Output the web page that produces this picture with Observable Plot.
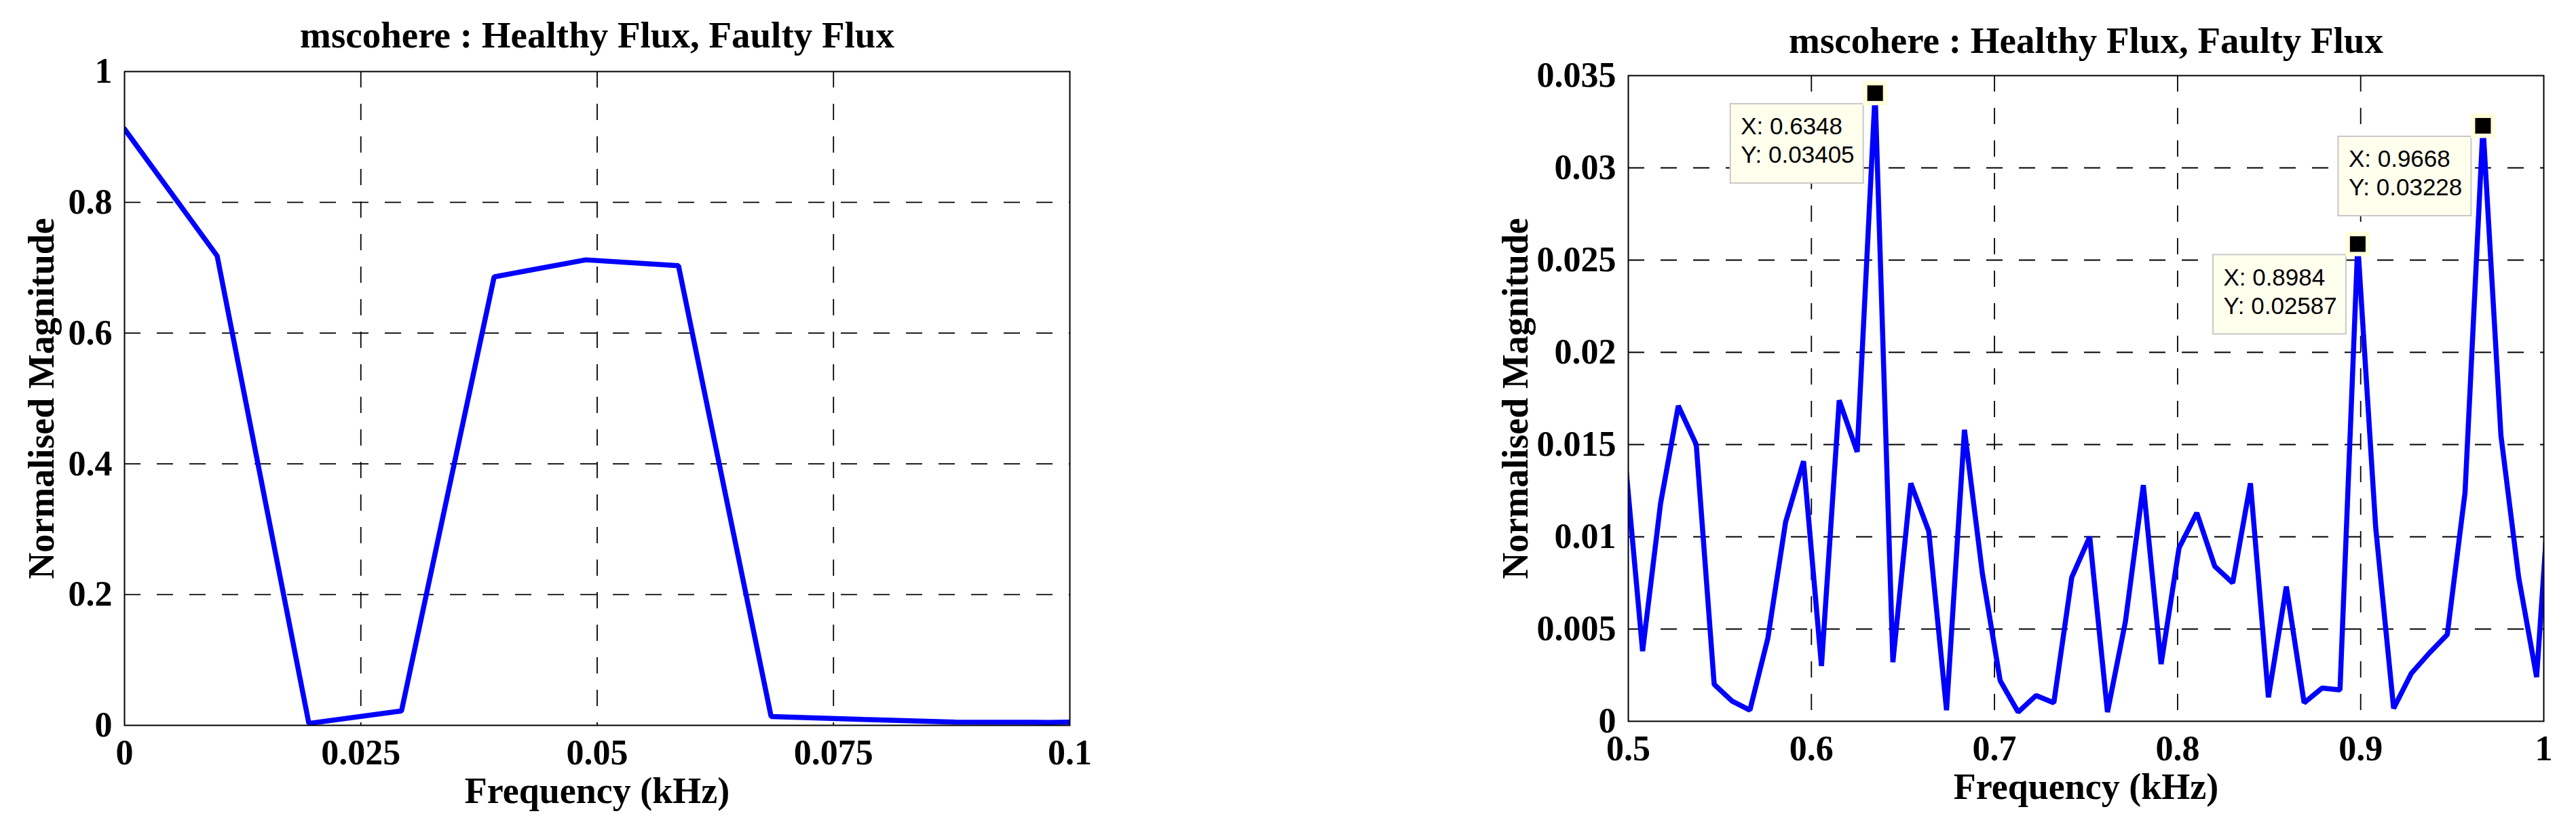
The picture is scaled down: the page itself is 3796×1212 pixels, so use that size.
<!DOCTYPE html>
<html><head><meta charset="utf-8">
<script src="https://cdn.jsdelivr.net/npm/d3@7"></script>
<script src="https://cdn.jsdelivr.net/npm/@observablehq/plot@0.6"></script>
<style>
html,body{margin:0;padding:0;background:#fff;}
#wrap{display:flex;width:3796px;height:1212px;overflow:hidden;background:#fff;}
#wrap svg{display:block;max-width:none;flex:none;}
</style></head><body><div id="wrap"></div>
<script>
const titleText = "mscohere : Healthy Flux, Faulty Flux";
const xLabelText = "Frequency (kHz)";
const yLabelText = "Normalised Magnitude";

// Left panel: 0 – 0.1 kHz
const lowFreq = [0, 0.0098, 0.0195, 0.0293, 0.0391, 0.0488, 0.0586, 0.0684, 0.0781, 0.0879, 0.0977, 0.1074];
const lowMag  = [0.912, 0.718, 0.003, 0.022, 0.686, 0.712, 0.703, 0.0136, 0.009, 0.005, 0.0045, 0.0065];
const lowXTicks = [0, 0.025, 0.05, 0.075, 0.1];
const lowXTickLabels = ["0", "0.025", "0.05", "0.075", "0.1"];
const lowYTicks = [0, 0.2, 0.4, 0.6, 0.8, 1];
const lowYTickLabels = ["0", "0.2", "0.4", "0.6", "0.8", "1"];

// Right panel: 0.5 – 1 kHz
const highFreq = [0.4980, 0.5078, 0.5176, 0.5273, 0.5371, 0.5469, 0.5566, 0.5664, 0.5762, 0.5859,
  0.5957, 0.6055, 0.6152, 0.6250, 0.6348, 0.6445, 0.6543, 0.6641, 0.6738, 0.6836,
  0.6934, 0.7031, 0.7129, 0.7227, 0.7324, 0.7422, 0.7520, 0.7617, 0.7715, 0.7813,
  0.7910, 0.8008, 0.8105, 0.8203, 0.8301, 0.8398, 0.8496, 0.8594, 0.8691, 0.8789,
  0.8887, 0.8984, 0.9082, 0.9180, 0.9277, 0.9375, 0.9473, 0.9570, 0.9668, 0.9766,
  0.9863, 0.9961, 1.0059];
const highMag = [0.0145, 0.0038, 0.0118, 0.0171, 0.0150, 0.0020, 0.0011, 0.0006, 0.0045, 0.0108,
  0.0141, 0.0030, 0.0174, 0.0146, 0.03405, 0.0032, 0.0129, 0.0103, 0.0006, 0.0158,
  0.0080, 0.0022, 0.0005, 0.0014, 0.0010, 0.0078, 0.0100, 0.0005, 0.0054, 0.0128,
  0.0031, 0.0094, 0.0113, 0.0084, 0.0075, 0.0129, 0.0013, 0.0073, 0.0010, 0.0018,
  0.0017, 0.02587, 0.0105, 0.0007, 0.0026, 0.0037, 0.0047, 0.0124, 0.03228, 0.0155,
  0.0078, 0.0024, 0.0167];
const highXTicks = [0.5, 0.6, 0.7, 0.8, 0.9, 1];
const highXTickLabels = ["0.5", "0.6", "0.7", "0.8", "0.9", "1"];
const highYTicks = [0, 0.005, 0.01, 0.015, 0.02, 0.025, 0.03, 0.035];
const highYTickLabels = ["0", "0.005", "0.01", "0.015", "0.02", "0.025", "0.03", "0.035"];

// Data tips
const tipFreq = [0.6348, 0.8984, 0.9668];
const tipMag  = [0.03405, 0.02587, 0.03228];

const SERIF = "'Liberation Serif', 'Times New Roman', Times, serif";
const SANS = "'Liberation Sans', Arial, Helvetica, sans-serif";

function panel({width, marginLeft, marginRight, marginTop, marginBottom, freq, mag,
                xDomain, xTicks, xLabels, yDomain, yTicks, yLabels, titleDy, yLabelDx, tips}) {
  const data = freq.map((f, i) => ({f, m: mag[i]}));
  const fmt = (ticks, labels) => d => { const i = ticks.indexOf(d); return i >= 0 ? labels[i] : String(d); };
  const innerX = xTicks.filter(t => t > xDomain[0] && t < xDomain[1]);
  const innerY = yTicks.filter(t => t > yDomain[0] && t < yDomain[1]);
  const marks = [
    Plot.gridX(innerX, {stroke: "#000", strokeOpacity: 1, strokeWidth: 1.8, strokeDasharray: "24,24"}),
    Plot.gridY(innerY, {stroke: "#000", strokeOpacity: 1, strokeWidth: 1.8, strokeDasharray: "24,24"}),
    Plot.line(data, {x: "f", y: "m", stroke: "#0000ff", strokeWidth: 7.5, strokeLinejoin: "miter", clip: true}),
    Plot.frame({stroke: "#000", strokeWidth: 2}),
    Plot.axisX(xTicks, {tickSize: 0, tickPadding: 21, tickFormat: fmt(xTicks, xLabels), label: null, fill: "#000"}),
    Plot.axisY(yTicks, {tickSize: 0, tickPadding: 18, tickFormat: fmt(yTicks, yLabels), label: null, fill: "#000"}),
    Plot.text([titleText], {text: d => d, frameAnchor: "top", textAnchor: "middle", lineAnchor: "bottom", dy: titleDy, fontSize: 55, fill: "#000"}),
    Plot.text([xLabelText], {text: d => d, frameAnchor: "bottom", textAnchor: "middle", lineAnchor: "bottom", dy: 114, fontSize: 54, fill: "#000"}),
    Plot.text([yLabelText], {text: d => d, frameAnchor: "left", textAnchor: "middle", rotate: -90, lineAnchor: "bottom", dx: yLabelDx, fontSize: 54, fill: "#000"})
  ];
  if (tips) {
    marks.push(
      Plot.rect(tips, {x1: "x", x2: "x", y1: "y", y2: "y", insetLeft: -213, insetRight: 17, insetTop: 16, insetBottom: -133,
        fill: "#ffffee", stroke: "#c8c8c8", strokeWidth: 2}),
      Plot.text(tips, {x: "x", y: "y", text: d => `X: ${d.x}\nY: ${d.y}`, dx: -198, dy: 103, textAnchor: "start",
        lineAnchor: "bottom", lineHeight: 1.2, fontSize: 35, fontFamily: SANS, fontWeight: "normal", fill: "#000"}),
      Plot.dot(tips, {x: "x", y: "y", symbol: "square", r: 20.3, fill: "#ffffdc", stroke: "none"}),
      Plot.dot(tips, {x: "x", y: "y", symbol: "square", r: 13, fill: "#000", stroke: "none"})
    );
  }
  return Plot.plot({
    width, height: 1212,
    marginLeft, marginRight, marginTop, marginBottom,
    x: {domain: xDomain},
    y: {domain: yDomain},
    style: {fontFamily: SERIF, fontWeight: "bold", fontSize: "52px", color: "#000", background: "#fff", overflow: "visible", maxWidth: "none"},
    marks
  });
}

const wrap = document.getElementById("wrap");
wrap.appendChild(panel({
  width: 1900, marginLeft: 183, marginRight: 1900 - 1576, marginTop: 105, marginBottom: 1212 - 1069,
  freq: lowFreq, mag: lowMag, xDomain: [0, 0.1], xTicks: lowXTicks, xLabels: lowXTickLabels,
  yDomain: [0, 1], yTicks: lowYTicks, yLabels: lowYTickLabels, titleDy: -36, yLabelDx: -105
}));
wrap.appendChild(panel({
  width: 1896, marginLeft: 2399 - 1900, marginRight: 3796 - 3748, marginTop: 111, marginBottom: 1212 - 1063,
  freq: highFreq, mag: highMag, xDomain: [0.5, 1], xTicks: highXTicks, xLabels: highXTickLabels,
  yDomain: [0, 0.035], yTicks: highYTicks, yLabels: highYTickLabels, titleDy: -34, yLabelDx: -149,
  tips: tipFreq.map((x, i) => ({x, y: tipMag[i]}))
}));
</script></body></html>
